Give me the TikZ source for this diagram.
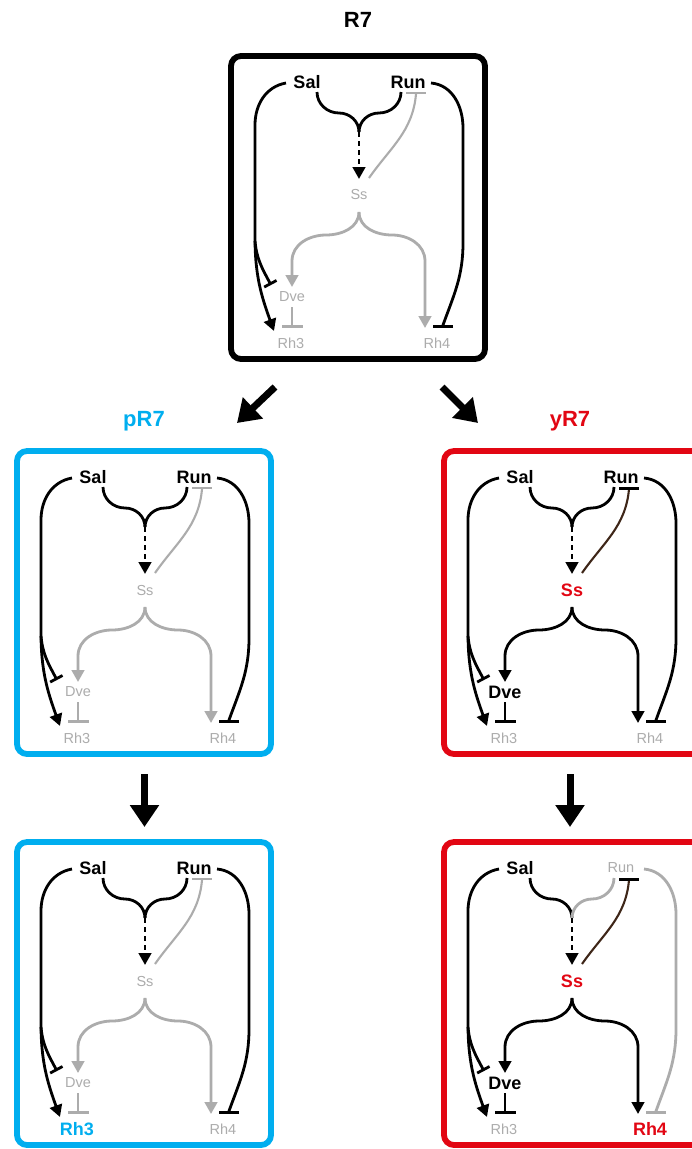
\documentclass[tikz,border=0pt]{standalone}
\usepackage{fontspec}
\setmainfont{Liberation Sans}
\usetikzlibrary{arrows.meta}

\definecolor{cgray}{RGB}{172,172,172}
\definecolor{cblue}{RGB}{0,174,239}
\definecolor{cred}{RGB}{226,6,19}
\definecolor{cbrown}{RGB}{62,38,24}

\tikzset{
  lab/.style={inner sep=0pt, font=\fontsize{14.5}{15}\selectfont, text=cgray},
  blab/.style={inner sep=0pt, font=\fontsize{18}{18}\selectfont\bfseries, text=black},
  title/.style={inner sep=0pt, anchor=base, font=\fontsize{22}{22}\selectfont\bfseries},
  link/.style={line width=2.8pt},
  act/.style={link, -{Triangle[length=12pt,width=12.5pt]}},
  frame/.style={draw=black, line width=5.8pt, rounded corners=10pt},
  bigarrow/.style={line width=7pt, -{Triangle[length=22pt,width=28pt]}},
  % per-panel looks
  salnode/.style={blab}, runnode/.style={blab}, ssnode/.style={lab},
  dvenode/.style={lab}, rhthree/.style={lab}, rhfour/.style={lab},
  runcol/.style={black}, sscol/.style={cgray}, dvecol/.style={cgray},
  fbline/.style={line width=2.1pt, cgray, -{Bar[width=20pt]}},
}

% right end of a panel frame (wider for panels running off the page)
\def\frameright{257}

% one regulatory panel: #1 name prefix, (#2,#3) top-left corner
\newcommand\drawpanel[3]{%
\begin{scope}[shift={(#2,#3)}]
  \draw[frame] (3,3) rectangle (\frameright,306);
  \node[salnode] (#1-sal) at (79,29) {Sal};
  \node[runnode] (#1-run) at (180,29) {Run};
  \node[ssnode] (#1-ss) at (131,142) {Ss};
  \node[dvenode] (#1-dve) at (64,244) {Dve};
  \node[rhthree] (#1-rh3) at (63,290) {Rh3};
  \node[rhfour] (#1-rh4) at (209,290) {Rh4};
  % connection points
  \coordinate (#1-salw) at (58,30);
  \coordinate (#1-sals) at (89,39);
  \coordinate (#1-runs) at (173,39);
  \coordinate (#1-rune) at (203,30);
  \coordinate (#1-runbar) at (188,39);
  \coordinate (#1-join) at (131,79);
  \coordinate (#1-ssin) at (131,126);
  \coordinate (#1-ssfb) at (141,125);
  \coordinate (#1-ssout) at (131,159);
  \coordinate (#1-dvein) at (64,234);
  \coordinate (#1-dvebar) at (43,232);
  \coordinate (#1-dveout) at (64,254);
  \coordinate (#1-rh3in) at (46,278);
  \coordinate (#1-rh3bar) at (64,275);
  \coordinate (#1-rh4in) at (197,275);
  \coordinate (#1-rh4bar) at (215,275);
  % Sal: long arm activating Rh3 and repressing Dve
  \draw[act] (#1-salw) to[out=190,in=90] (27,72) -- (27,185)
        to[out=-90,in=110] (#1-rh3in);
  \draw[link,-{Bar[width=14pt]}] (27,188) to[out=-85,in=118] (#1-dvebar);
  % Sal + Run together induce Ss
  \draw[link] (#1-sals) to[out=-90,in=180] (111,60) to[out=0,in=90] (#1-join);
  \draw[link,runcol] (#1-runs) to[out=-90,in=0] (151,60) to[out=180,in=90] (#1-join);
  \draw[act,dash pattern=on 5pt off 4pt] (#1-join) -- (#1-ssin);
  % Ss feedback on Run
  \draw[fbline] (#1-ssfb) to[out=55,in=-95] ([yshift=-2pt]#1-runbar) -- (#1-runbar);
  % Ss activates Dve and Rh4
  \draw[act,sscol] (#1-ssout) to[out=-90,in=0] (98,182) to[out=180,in=90] (64,208) -- (#1-dvein);
  \draw[act,sscol] (#1-ssout) to[out=-90,in=180] (164,182) to[out=0,in=90] (197,208) -- (#1-rh4in);
  % Dve represses Rh3
  \draw[link,dvecol,-{Bar[width=21pt]}] (#1-dveout) -- (#1-rh3bar);
  % Run represses Rh4
  \draw[link,runcol,-{Bar[width=20pt]}] (#1-rune) to[out=-5,in=90] (235,75) -- (235,190)
        to[out=-90,in=70] ([yshift=3pt]#1-rh4bar) -- (#1-rh4bar);
\end{scope}}

\begin{document}
\begin{tikzpicture}[x=1pt,y=-1pt]
\clip (0,0) rectangle (692,1149);
\fill[white] (0,0) rectangle (692,1149);

% titles
\node[title] (t-top) at (358,27) {R7};
\node[title, text=cblue] (t-p) at (144,426) {pR7};
\node[title, text=cred] (t-y) at (570,426) {yR7};

% R7
\drawpanel{top}{228}{53}

% pR7
\begin{scope}[frame/.append style={draw=cblue}]
  \drawpanel{p}{14}{448}
\end{scope}

% yR7
\begin{scope}[frame/.append style={draw=cred},
  ssnode/.style={blab,text=cred}, dvenode/.style={blab},
  sscol/.style={black}, dvecol/.style={black},
  fbline/.style={line width=2.1pt, cbrown, -{Bar[width=20pt,color=black,line width=3pt]}}]
  \def\frameright{300}
  \drawpanel{y}{441}{448}
\end{scope}

% pR7, Rh3 on
\begin{scope}[frame/.append style={draw=cblue}, rhthree/.style={blab,text=cblue}]
  \drawpanel{pb}{14}{839}
\end{scope}

% yR7, Rh4 on
\begin{scope}[frame/.append style={draw=cred},
  ssnode/.style={blab,text=cred}, dvenode/.style={blab},
  runnode/.style={lab}, runcol/.style={cgray},
  rhfour/.style={blab,text=cred},
  sscol/.style={black}, dvecol/.style={black},
  fbline/.style={line width=2.1pt, cbrown, -{Bar[width=20pt,color=black,line width=3pt]}}]
  \def\frameright{300}
  \drawpanel{yb}{441}{839}
\end{scope}

% transitions between stages
\coordinate (a1s) at (275,387); \coordinate (a1e) at (237,423);
\coordinate (a2s) at (442,387); \coordinate (a2e) at (478,423);
\coordinate (a3s) at (144.5,774); \coordinate (a3e) at (144.5,827);
\coordinate (a4s) at (570,774); \coordinate (a4e) at (570,827);
\draw[bigarrow] (a1s) -- (a1e);
\draw[bigarrow] (a2s) -- (a2e);
\draw[bigarrow] (a3s) -- (a3e);
\draw[bigarrow] (a4s) -- (a4e);
\end{tikzpicture}
\end{document}
